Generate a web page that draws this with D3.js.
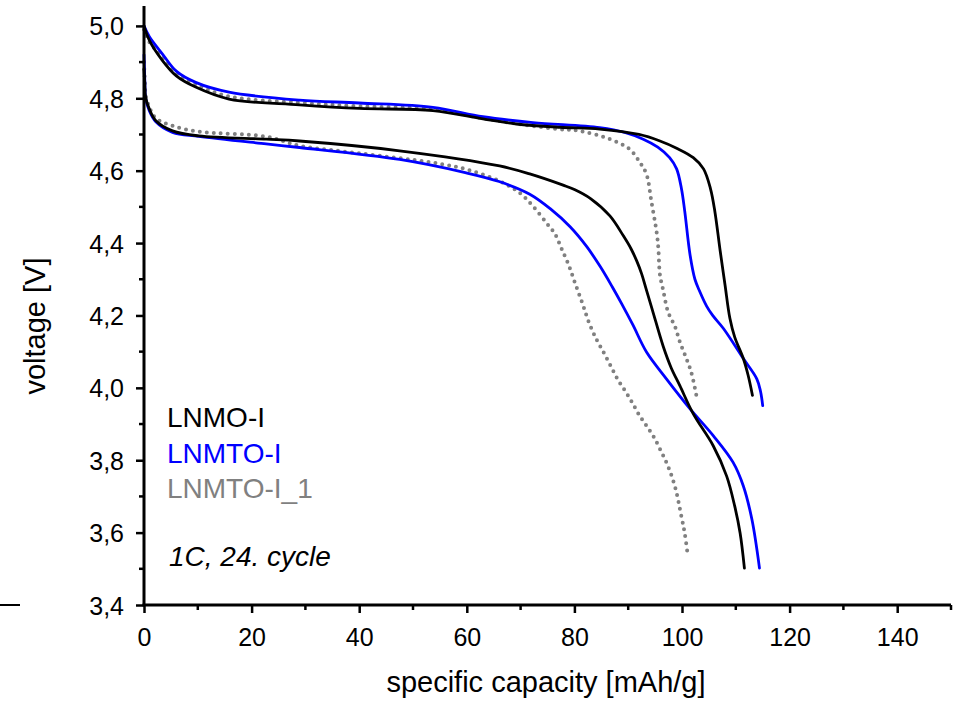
<!DOCTYPE html>
<html>
<head>
<meta charset="utf-8">
<script src="https://cdn.jsdelivr.net/npm/d3@7"></script>
<style>
  body { margin: 0; background: #fff; }
  text { font-family: "Liberation Sans", Arial, sans-serif; }
</style>
</head>
<body>
<svg class="chart"></svg>
<script>
// capacity [mAh/g], voltage [V]
var lnmoUpper = [[0,5.0],[1,4.96],[3.4,4.905],[6,4.862],[9.6,4.831],[15.8,4.798],[28.9,4.782],[40,4.772],[53.7,4.766],[63,4.743],[69.2,4.729],[77.3,4.72],[84.7,4.715],[92,4.7],[95.9,4.682],[99,4.662],[102.1,4.636],[104,4.605],[105.3,4.55],[106.1,4.488],[107.1,4.378],[108,4.284],[108.9,4.192],[109.8,4.14],[111.4,4.081],[112.3,4.034],[113.1,3.979]];
var lnmtoUpper = [[0,5.0],[1,4.97],[3.4,4.923],[6,4.875],[9.6,4.844],[15.8,4.817],[28.9,4.795],[40,4.787],[53.7,4.775],[63,4.749],[72.3,4.733],[84.7,4.719],[89.5,4.705],[92.8,4.687],[95.5,4.665],[97.7,4.636],[99,4.605],[99.9,4.55],[100.5,4.489],[101.5,4.367],[102.4,4.3],[103.3,4.266],[104.6,4.225],[105.7,4.2],[107.7,4.164],[111.4,4.081],[113.9,4.025],[114.6,3.99],[115,3.951]];
var lnmto1Upper = [[0,4.99],[1,4.955],[3.4,4.915],[6,4.868],[9.6,4.838],[15.8,4.805],[28.9,4.788],[40,4.778],[53.7,4.77],[63,4.745],[70,4.728],[77,4.715],[81,4.71],[86.6,4.687],[90.3,4.659],[92.2,4.622],[93.4,4.59],[94.3,4.516],[95.3,4.428],[95.6,4.386],[95.9,4.312],[96.5,4.27],[97.4,4.21],[98.7,4.169],[99.6,4.127],[100.7,4.085],[101.7,4.044],[102.7,3.977]];

var lnmoLower = [[0,4.88],[0.15,4.84],[0.3,4.803],[1,4.77],[2.2,4.738],[5.3,4.71],[10.2,4.696],[22.7,4.687],[28.9,4.682],[47.5,4.655],[66.1,4.613],[71.7,4.591],[77.9,4.56],[80,4.548],[83,4.523],[86.6,4.475],[89.1,4.42],[90.5,4.385],[91.6,4.35],[92.5,4.315],[93.3,4.275],[94.5,4.215],[96.5,4.115],[98,4.055],[99.6,4.006],[102.1,3.928],[105.8,3.84],[108.3,3.756],[109.8,3.673],[110.8,3.599],[111.6,3.502]];
var lnmtoLower = [[0,4.92],[0.15,4.85],[0.3,4.8],[1,4.765],[2.2,4.735],[5.3,4.706],[10.2,4.695],[22.7,4.674],[28.9,4.664],[47.5,4.631],[59.9,4.594],[66,4.57],[71.7,4.535],[75.5,4.495],[79.2,4.445],[82.3,4.39],[84.8,4.335],[87,4.28],[88.8,4.232],[90.9,4.173],[93.4,4.099],[97.1,4.025],[101.5,3.942],[105.8,3.868],[109.5,3.794],[111.4,3.729],[113,3.636],[114.4,3.502]];
var lnmto1Lower = [[0,4.9],[0.15,4.85],[0.3,4.81],[1,4.775],[2.2,4.745],[5.3,4.724],[10.2,4.708],[22.7,4.694],[28.9,4.669],[40,4.648],[53.7,4.622],[59.9,4.604],[66.1,4.571],[69.8,4.539],[72.4,4.5],[74.9,4.454],[76.4,4.425],[77.6,4.385],[78.9,4.341],[80.2,4.286],[81.5,4.233],[82.7,4.181],[84.1,4.134],[85.5,4.096],[86.8,4.059],[88.1,4.022],[89.5,3.99],[90.8,3.958],[92,3.926],[93.4,3.895],[94.8,3.863],[96,3.828],[97.3,3.787],[98.7,3.727],[99.9,3.644],[100.5,3.599],[101.1,3.534]];

var xTicks = [0, 20, 40, 60, 80, 100, 120, 140];
var xMinor = [10, 30, 50, 70, 90, 110, 130, 150];
var yTicks = [3.4, 3.6, 3.8, 4.0, 4.2, 4.4, 4.6, 4.8, 5.0];
var yMinor = [3.5, 3.7, 3.9, 4.1, 4.3, 4.5, 4.7, 4.9];
var legendNames = ["LNMO-I", "LNMTO-I", "LNMTO-I_1"];
var legendColors = ["#000000", "#0000ff", "#808080"];

var width = 956, height = 702;
var svg = d3.select(".chart").attr("width", width).attr("height", height);

var x = d3.scaleLinear().domain([0, 150]).range([144, 951]);
var y = d3.scaleLinear().domain([3.4, 5.055]).range([605, 6]);

var comma = function(d) { return d3.format(".1f")(d).replace(".", ","); };

var line = d3.line()
    .x(function(d) { return x(d[0]); })
    .y(function(d) { return y(d[1]); })
    .curve(d3.curveCatmullRom.alpha(0.5));

var series = [
    {data: lnmto1Upper, color: "#808080", dotted: true},
    {data: lnmto1Lower, color: "#808080", dotted: true},
    {data: lnmtoUpper, color: "#0000ff"},
    {data: lnmtoLower, color: "#0000ff"},
    {data: lnmoUpper, color: "#000000"},
    {data: lnmoLower, color: "#000000"}
];

svg.selectAll("path.curve")
    .data(series)
    .enter()
    .append("path")
    .attr("class", "curve")
    .attr("d", function(d) { return line(d.data); })
    .attr("fill", "none")
    .attr("stroke", function(d) { return d.color; })
    .attr("stroke-width", function(d) { return d.dotted ? 4 : 2.8; })
    .attr("stroke-linecap", "round")
    .attr("stroke-dasharray", function(d) { return d.dotted ? "0 7" : null; });

// axes
var xAxis = d3.axisBottom(x).tickValues(xTicks).tickSize(8).tickFormat(d3.format("d"));
var yAxis = d3.axisLeft(y).tickValues(yTicks).tickSize(8).tickFormat(comma);

var gx = svg.append("g").attr("transform", "translate(0,605)").call(xAxis);
var gy = svg.append("g").attr("transform", "translate(144,0)").call(yAxis);
gx.select(".domain").remove();
gy.select(".domain").remove();

gx.append("g").selectAll("line").data(xMinor).enter().append("line")
    .attr("x1", function(d) { return x(d); }).attr("x2", function(d) { return x(d); })
    .attr("y1", 0).attr("y2", 5).attr("stroke", "#000").attr("stroke-width", 2.5);
gy.append("g").selectAll("line").data(yMinor).enter().append("line")
    .attr("y1", function(d) { return y(d); }).attr("y2", function(d) { return y(d); })
    .attr("x1", 0).attr("x2", -5).attr("stroke", "#000").attr("stroke-width", 2.5);

[gx, gy].forEach(function(g) {
    g.selectAll(".tick line").attr("stroke", "#000").attr("stroke-width", 2.5);
    g.selectAll(".tick text").attr("fill", "#000").style("font-size", "25px");
});
gx.selectAll(".tick text").attr("dy", "0").attr("y", 41);
gy.selectAll(".tick text").attr("x", -20).attr("dy", "0.36em");

svg.append("line").attr("x1", x(0) - 1.5).attr("x2", x(150)).attr("y1", 605).attr("y2", 605)
    .attr("stroke", "#000").attr("stroke-width", 3);
svg.append("line").attr("x1", 144).attr("x2", 144).attr("y1", y(5.055)).attr("y2", 606)
    .attr("stroke", "#000").attr("stroke-width", 3);

// stray mark at left edge
svg.append("line").attr("x1", 0).attr("x2", 20).attr("y1", 605).attr("y2", 605)
    .attr("stroke", "#000").attr("stroke-width", 2);

svg.append("text")
    .attr("x", 546).attr("y", 692)
    .attr("text-anchor", "middle")
    .style("font-size", "29px")
    .text("specific capacity [mAh/g]");

svg.append("text")
    .attr("transform", "translate(45,326) rotate(-90)")
    .attr("text-anchor", "middle")
    .style("font-size", "29px")
    .text("voltage [V]");

svg.selectAll("text.legend")
    .data(legendNames)
    .enter()
    .append("text")
    .attr("class", "legend")
    .attr("x", 167)
    .attr("y", function(d, i) { return 427 + i * 35.5; })
    .attr("fill", function(d, i) { return legendColors[i]; })
    .style("font-size", "28px")
    .text(function(d) { return d; });

svg.append("text")
    .attr("x", 169).attr("y", 566)
    .style("font-size", "28px")
    .style("font-style", "italic")
    .text("1C, 24. cycle");
</script>
</body>
</html>
